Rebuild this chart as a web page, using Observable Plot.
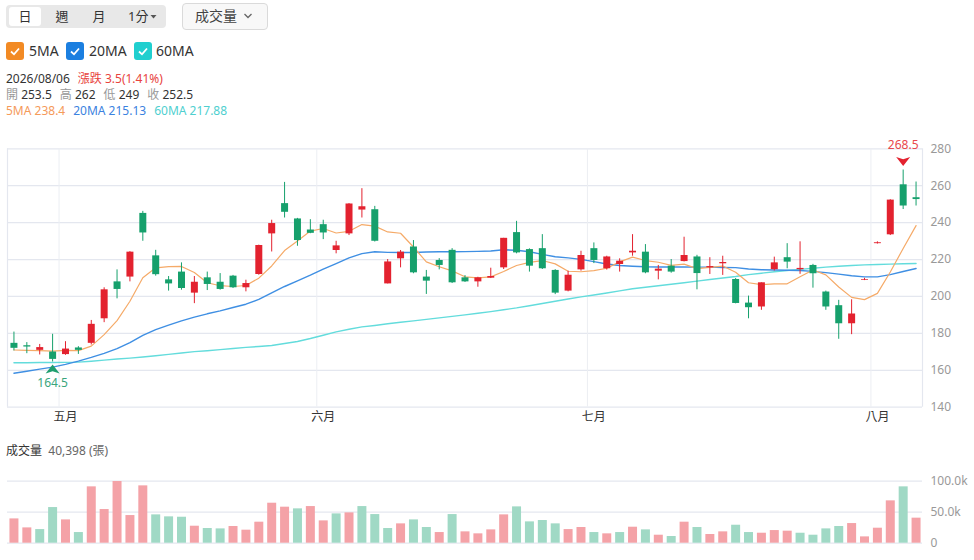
<!DOCTYPE html>
<html><head><meta charset="utf-8">
<script src="https://cdn.jsdelivr.net/npm/d3@7"></script>
<script src="https://cdn.jsdelivr.net/npm/@observablehq/plot@0.6"></script>
<style>
body{margin:0;background:#fff;font-family:"Noto Sans","Noto Sans CJK TC",sans-serif;color:#333;}
#root{position:relative;width:974px;height:560px;overflow:hidden;}
.abs{position:absolute;white-space:nowrap;}
.cb{position:absolute;top:42px;width:18px;height:18px;border-radius:3px;}
.cb svg{position:absolute;left:0;top:0;}
.cbl{position:absolute;top:41px;font-size:14px;line-height:20px;color:#333;}
.info{position:absolute;left:6px;font-size:12px;line-height:16px;}
.g{color:#999;}
.sp{display:inline-block;width:8px;}
</style></head><body><div id="root">
<div class="abs" style="left:6px;top:5px;width:160px;height:23px;background:#e8e8e8;border-radius:4px;"></div>
<div class="abs" style="left:9px;top:7px;width:32px;height:19px;background:#fff;border-radius:3px;"></div>
<div class="abs" style="left:9px;top:7px;width:32px;line-height:19px;font-size:13px;text-align:center;">日</div>
<div class="abs" style="left:50px;top:7px;width:24px;line-height:19px;font-size:13px;text-align:center;">週</div>
<div class="abs" style="left:87px;top:7px;width:24px;line-height:19px;font-size:13px;text-align:center;">月</div>
<div class="abs" style="left:128px;top:7px;line-height:19px;font-size:13px;">1分</div>
<svg class="abs" style="left:150px;top:14px;" width="8" height="6"><polygon points="0.5,1 6.5,1 3.5,4.5" fill="#555"/></svg>
<div class="abs" style="left:182px;top:3px;width:84px;height:25px;border:1px solid #dadada;border-radius:4px;background:#f8f8f8;"></div>
<div class="abs" style="left:195px;top:6px;line-height:20px;font-size:14px;color:#444;">成交量</div>
<svg class="abs" style="left:243px;top:12px;" width="10" height="8"><polyline points="1.5,2 5,5.5 8.5,2" fill="none" stroke="#666" stroke-width="1.3"/></svg>

<div class="cb" style="left:6px;background:#f28a24;"><svg width="18" height="18"><polyline points="5,9.5 8,12.3 13,6.5" fill="none" stroke="#fff" stroke-width="1.8"/></svg></div>
<div class="cbl" style="left:29px;">5MA</div>
<div class="cb" style="left:66px;background:#1b7fe0;"><svg width="18" height="18"><polyline points="5,9.5 8,12.3 13,6.5" fill="none" stroke="#fff" stroke-width="1.8"/></svg></div>
<div class="cbl" style="left:89px;">20MA</div>
<div class="cb" style="left:134px;background:#20cfcf;"><svg width="18" height="18"><polyline points="5,9.5 8,12.3 13,6.5" fill="none" stroke="#fff" stroke-width="1.8"/></svg></div>
<div class="cbl" style="left:156px;">60MA</div>

<div class="info" style="top:71px;"><span>2026/08/06</span><span class="sp"></span><span style="color:#e8433e;">漲跌 3.5(1.41%)</span></div>
<div class="info" style="top:87px;"><span class="g">開</span> 253.5<span class="sp"></span><span class="g">高</span> 262<span class="sp"></span><span class="g">低</span> 249<span class="sp"></span><span class="g">收</span> 252.5</div>
<div class="info" style="top:103px;"><span style="color:#f59a5a;">5MA 238.4</span><span class="sp"></span><span style="color:#3b82e0;">20MA 215.13</span><span class="sp"></span><span style="color:#4fcfcf;">60MA 217.88</span></div>

<div class="info" style="top:443px;"><span style="color:#333;">成交量</span>&nbsp;&nbsp;<span style="color:#666;">40,398 (張)</span></div>

<div id="price" class="abs" style="left:0;top:135px;"></div>
<div id="vol" class="abs" style="left:0;top:465px;"></div>
</div>
<script>
const opens  = [174.6,173.3,170.8,169.9,168.5,172.1,174.6,187.9,207.9,210.5,245,222,209,213.2,201.8,210.1,207.7,211,204.7,211.9,233.9,250.3,242,236,238.9,224.9,233.9,246.8,247,206.8,220.4,226.8,210.5,219.5,225,210.1,207.9,209.9,215.5,234.6,225.4,225.9,214.1,202.9,214.4,225.9,215,217.3,223.6,224,213.7,216.4,218.9,221.4,215.5,217.7,209.2,196.4,194.3,214.5,221,214.5,216.8,202.4,195,185.2,208.8,228.6,233.4,260.5,253.5];
const highs  = [180.7,175,174,179.5,175.5,172.8,187,204.7,214.4,224.3,246.1,225,210.8,218.2,210.8,213.2,212.4,211.4,208.8,227.8,241.3,261.8,242.3,241.6,241.3,229.9,250.3,258.4,248.8,220,224.9,230.3,214.1,220.5,225.9,211.3,210.4,215.3,231.5,240.7,225.8,233.5,214.5,213.7,224.5,229,221.8,220.4,233.5,228.1,216.8,220,232.1,222.3,221,221.8,209.7,200.2,207.4,221.3,228.6,229.6,217.4,202.9,197.9,198.2,209.8,229.6,252.4,268.5,262];
const lows   = [170.5,169,168.3,164.5,168.1,168.6,173.7,185.8,198.7,207.9,229.9,211,202.9,203.4,196.1,203.2,203.4,204.3,202.5,211.5,224.1,242.5,227.2,234,230.8,223.1,233,242.5,229.5,206.8,215.5,212.3,201.1,214.4,207,207.6,205,209.7,214.6,223.1,213.2,214.6,201,202.5,213.7,217.8,214.3,213.2,221.8,212.3,209,212.6,218.7,203.6,211.9,211.4,196,187.9,192.5,213.8,215,212,204.5,192.5,176.8,179.3,208.6,228.4,233,247.1,249];
const closes = [171.9,172.6,172.3,165.9,171.5,170.8,184.9,203.6,203.8,224,234.4,211.8,206.8,204.3,207.7,206.5,203.8,204.7,207,227.6,239.5,245.6,230.3,234.2,234.4,227.4,250.1,248.6,229.9,218.7,224,212.8,208.3,216.8,207.4,207.9,210.1,210.8,231.5,223.6,216.4,215,201.8,211.5,222.2,219.5,221.4,219.1,224.5,212.8,214.8,213.2,222.2,212.4,216.2,218.4,196.2,193.9,207.4,218.2,218.6,215.2,212.3,194.3,185.2,190.5,209.2,229.1,252.2,249,252.5];
const volumes = [39200,24700,22000,57500,37600,17200,90900,54300,99500,44600,92500,45700,42500,41900,27400,23700,23100,26900,21000,33900,64500,58100,55400,59100,36000,47300,48900,59100,46200,23700,31200,37600,25300,17200,46200,18300,15100,21500,45700,58600,34400,36600,31200,22000,25300,17200,15100,17200,25800,21500,12900,10800,33900,25300,14000,18300,29000,17200,16100,20400,19400,16100,12900,23100,26900,31700,10200,24200,68300,90900,40398];
const ma5Head = [171,170.8,170.6,170.4];
const ma20 = [158.4,159.5,160.6,161.7,163.2,165.0,167.0,169.2,171.7,175.0,178.9,182.0,184.5,186.8,188.8,190.6,192.2,194.0,195.8,198.4,202.0,205.4,208.5,211.5,214.8,217.8,220.9,223.2,224.2,223.9,223.8,223.8,224.1,224.2,224.2,224.3,224.4,224.6,225.3,225.0,224.2,222.8,221.5,220.9,220.1,218.9,217.6,216.8,216.4,216.1,216.0,216.0,216.0,215.9,215.9,215.7,215.6,214.9,214.5,214.3,214.2,214.1,213.6,212.9,212.1,211.2,210.6,210.6,211.8,213.5,215.13];
const ma60 = [164.1,164.1,164.2,164.2,164.3,164.4,164.9,165.5,166.1,166.6,167.2,167.9,168.6,169.4,170.1,170.6,171.2,171.8,172.4,172.9,173.4,174.5,175.6,177.2,179.0,180.8,182.2,183.5,184.3,185.2,186.0,186.8,187.6,188.4,189.2,190.0,190.9,191.8,192.8,193.8,195.0,196.2,197.4,198.6,199.8,200.8,201.9,203.0,204.2,205.0,205.8,206.6,207.4,208.3,209.2,210.0,210.8,211.8,212.6,213.4,214.1,214.7,215.3,215.9,216.4,216.8,217.1,217.3,217.5,217.7,217.88];
const monthLabels = ["五月","六月","七月","八月"];
const monthStart = [4,24,45,67];
const priceTicks = [140,160,180,200,220,240,260,280];
const volTicks = [0,50000,100000];
const volTickLabels = ["0","50.0k","100.0k"];

const N = closes.length;
const idx = d3.range(N);
const RED = "#e3222f", GREEN = "#16a06c", VRED = "#f4a2a7", VGREEN = "#a0d9c5";
const candles = idx.map(i => ({i, open: opens[i], high: highs[i], low: lows[i], close: closes[i], c: closes[i] >= opens[i] ? RED : GREEN}));
const ma5 = idx.map(i => i < 4 ? ma5Head[i] : d3.mean(closes.slice(i - 4, i + 1)));
const volUp = idx.map(i => i === 0 ? true : closes[i] >= closes[i - 1]);
const lowIdx = d3.minIndex(lows), highIdx = d3.maxIndex(highs);

const arrowUp = {draw(ctx, size){ const r = Math.sqrt(size / Math.PI); const w = r, h = r * 0.65;
  ctx.moveTo(0, -h); ctx.lineTo(w, h); ctx.lineTo(0, h * 0.5); ctx.lineTo(-w, h); ctx.closePath(); }};
const arrowDown = {draw(ctx, size){ const r = Math.sqrt(size / Math.PI); const w = r, h = r * 0.65;
  ctx.moveTo(0, h); ctx.lineTo(w, -h); ctx.lineTo(0, -h * 0.5); ctx.lineTo(-w, -h); ctx.closePath(); }};

const font = '"Noto Sans","Noto Sans CJK TC",sans-serif';
const price = Plot.plot({
  width: 974, height: 290, marginTop: 13.3, marginBottom: 18.3, marginLeft: 7, marginRight: 52,
  x: {domain: [-0.5, N - 0.5], axis: null, label: null},
  y: {domain: [140, 280], axis: null, label: null},
  color: {type: "identity"},
  style: {fontFamily: font, fontSize: "12px", background: "transparent", overflow: "visible"},
  marks: [
    Plot.ruleY(priceTicks, {stroke: "#e4e7ef", strokeWidth: 1.2}),
    Plot.ruleX(monthStart, {x: d => d - 0.5, stroke: "#eceef3"}),
    Plot.ruleX([-0.5, N - 0.5], {stroke: "#e4e7ef", strokeWidth: 1.2}),
    Plot.axisY(priceTicks, {anchor: "right", tickSize: 0, tickPadding: 8, fill: "#999", fontSize: 12, label: null}),
    Plot.axisX(monthStart, {anchor: "bottom", tickSize: 0, tickPadding: 5, tickFormat: d => monthLabels[monthStart.indexOf(d)], fill: "#333", fontSize: 12, label: null}),
    Plot.line(idx, {x: d => d, y: d => ma60[d], stroke: "#63dcdc", strokeWidth: 1.4}),
    Plot.line(idx, {x: d => d, y: d => ma20[d], stroke: "#3f8fe3", strokeWidth: 1.4}),
    Plot.line(idx, {x: d => d, y: d => ma5[d], stroke: "#f5aa68", strokeWidth: 1.2}),
    Plot.ruleX(candles, {x: "i", y1: "low", y2: "high", stroke: "c", strokeWidth: 1}),
    Plot.ruleX(candles, {x: "i", y1: "open", y2: "close", stroke: "c", strokeWidth: 7}),
    Plot.dot([lowIdx], {x: d => d, y: d => lows[d], dy: 7, symbol: arrowUp, r: 7, fill: "#1f9e6f", stroke: "none"}),
    Plot.text([lowIdx], {x: d => d, y: d => lows[d], dy: 21, text: d => String(lows[d]), fill: "#3aa57c", fontSize: 12}),
    Plot.dot([highIdx], {x: d => d, y: d => highs[d], dy: -8.5, symbol: arrowDown, r: 7, fill: RED, stroke: "none"}),
    Plot.text([highIdx], {x: d => d, y: d => highs[d], dy: -24.5, text: d => String(highs[d]), fill: "#e8474c", fontSize: 12})
  ]
});
document.getElementById("price").appendChild(price);

const vol = Plot.plot({
  width: 974, height: 85, marginTop: 15.7, marginBottom: 7.3, marginLeft: 7, marginRight: 52,
  x: {domain: [-0.5, N - 0.5], axis: null, label: null},
  y: {domain: [0, 100000], axis: null, label: null},
  color: {type: "identity"},
  style: {fontFamily: font, fontSize: "12px", background: "transparent", overflow: "visible"},
  marks: [
    Plot.ruleY(volTicks, {stroke: "#e4e7ef", strokeWidth: 1.2}),
    Plot.axisY(volTicks, {anchor: "right", tickSize: 0, tickPadding: 8, tickFormat: d => volTickLabels[volTicks.indexOf(d)], fill: "#999", fontSize: 12, label: null}),
    Plot.ruleX(idx, {x: d => d, y1: 0, y2: d => volumes[d], stroke: d => volUp[d] ? VRED : VGREEN, strokeWidth: 9})
  ]
});
document.getElementById("vol").appendChild(vol);
</script>
</body></html>
